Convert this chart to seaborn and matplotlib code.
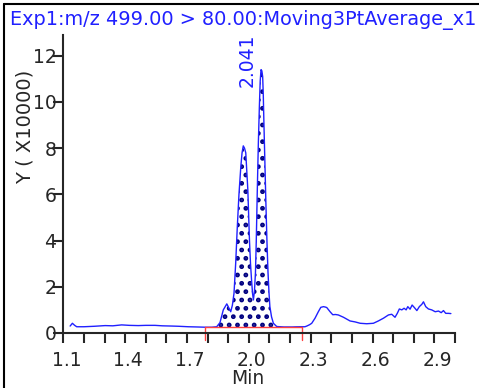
import numpy as np
import pandas as pd
import matplotlib
matplotlib.use("Agg")
import matplotlib.pyplot as plt
from matplotlib.lines import Line2D
from matplotlib.transforms import ScaledTranslation
import seaborn as sns

# Chromatogram trace (time in min, intensity in units of 10000)
time_min = [
    1.133, 1.144, 1.155, 1.165, 1.20, 1.25, 1.303, 1.34, 1.383, 1.42,
    1.464, 1.50, 1.545, 1.58, 1.626, 1.66, 1.706, 1.75, 1.787, 1.82,
    1.844, 1.86, 1.876, 1.893, 1.905, 1.912, 1.920, 1.928, 1.936, 1.944,
    1.952, 1.961, 1.967, 1.973, 1.979, 1.985, 1.990, 1.995, 2.003, 2.008,
    2.013, 2.018, 2.022, 2.027, 2.032, 2.036, 2.041, 2.046, 2.051, 2.055,
    2.059, 2.063, 2.067, 2.070, 2.073, 2.078, 2.083, 2.088, 2.093, 2.098,
    2.102, 2.110, 2.119, 2.135, 2.17, 2.21, 2.25, 2.272, 2.281, 2.295,
    2.305, 2.321, 2.337, 2.349, 2.362, 2.372, 2.378, 2.394, 2.407, 2.42,
    2.434, 2.459, 2.491, 2.515, 2.54, 2.572, 2.604, 2.628, 2.653, 2.677,
    2.693, 2.709, 2.72, 2.73, 2.742, 2.753, 2.763, 2.771, 2.782, 2.792,
    2.803, 2.815, 2.827, 2.839, 2.847, 2.858, 2.871, 2.887, 2.904, 2.92,
    2.933, 2.944, 2.955, 2.968, 2.98,
]
intensity = [
    0.30, 0.42, 0.33, 0.27, 0.27, 0.29, 0.32, 0.31, 0.35, 0.33,
    0.32, 0.33, 0.33, 0.31, 0.30, 0.29, 0.27, 0.26, 0.25, 0.25,
    0.27, 0.45, 1.00, 1.26, 1.05, 0.92, 1.20, 1.72, 3.00, 4.60,
    6.00, 7.20, 7.80, 8.10, 8.00, 7.80, 7.00, 6.20, 4.00, 3.00,
    2.30, 1.70, 1.43, 1.80, 2.60, 4.00, 6.20, 8.20, 9.80, 10.90,
    11.40, 11.35, 11.10, 10.30, 9.10, 7.30, 5.50, 3.90, 2.60, 1.70,
    1.14, 0.70, 0.42, 0.28, 0.26, 0.26, 0.27, 0.27, 0.30, 0.36,
    0.42, 0.64, 0.92, 1.11, 1.14, 1.12, 1.10, 0.92, 0.79, 0.80,
    0.78, 0.68, 0.52, 0.48, 0.42, 0.40, 0.42, 0.52, 0.64, 0.78,
    0.81, 0.68, 0.85, 1.04, 1.00, 1.07, 1.00, 1.14, 1.03, 1.21,
    1.10, 0.97, 1.14, 1.24, 1.35, 1.14, 1.04, 1.00, 0.92, 0.95,
    0.88, 0.97, 0.85, 0.85, 0.84,
]

# integration window
baseline_start = 1.7875
baseline_end = 2.257
baseline_level = 0.25
peak_rt = 2.041
peak_top = 11.4

x_ticks = [round(1.1 + 0.1 * i, 1) for i in range(20)]
y_ticks = [0, 2, 4, 6, 8, 10, 12]

df = pd.DataFrame({"Min": time_min, "Y": intensity})

sns.set_style("ticks")
plt.rcParams["font.family"] = ["DejaVu Sans"]
plt.rcParams["hatch.linewidth"] = 2.2
plt.rcParams["hatch.color"] = "#000080"

trace_col = "#2020ff"

fig = plt.figure(figsize=(4.79, 3.88), dpi=100)
ax = fig.add_axes([0.1322, 0.1418, 0.8177, 0.768])

sns.lineplot(data=df, x="Min", y="Y", color=trace_col, linewidth=1.0, ax=ax)

t = np.array(time_min)
v = np.array(intensity)
mask = (t >= baseline_start) & (t <= baseline_end)
ax.fill_between(t, baseline_level, v, where=mask & (v > baseline_level),
                interpolate=True, facecolor="white", edgecolor="#000080",
                hatch="..", linewidth=0, zorder=1)
sns.lineplot(x=[baseline_start, baseline_end], y=[baseline_level, baseline_level],
             color="#ff4040", linewidth=1.0, ax=ax)
for xb in (baseline_start, baseline_end):
    ax.plot([xb, xb], [baseline_level, -0.3], color="#ff4040", lw=1.0, clip_on=False)

ax.annotate(f"{peak_rt:.3f}", xy=(peak_rt, peak_top), xytext=(-7, -12.5),
            textcoords="offset points", rotation=90, ha="center", va="bottom",
            color=trace_col, fontsize=13.5)

ax.set_xlim(1.1, 3.0)
ax.set_ylim(0, 12.9)
ax.set_xticks(x_ticks)
ax.set_xticklabels([f"{x:.1f}" if i % 3 == 0 else "" for i, x in enumerate(x_ticks)])
ax.set_yticks(y_ticks)
ax.set_yticklabels([str(y) for y in y_ticks])
ax.tick_params(axis="x", length=7, width=1.5, pad=6, labelsize=13.5, direction="out")
ax.tick_params(axis="y", length=7, width=1.5, pad=-2, labelsize=13.5, direction="out")
shift = ScaledTranslation(3 / 100, 0, fig.dpi_scale_trans)
for lbl in ax.get_xticklabels():
    lbl.set_transform(lbl.get_transform() + shift)
for s in ("left", "bottom"):
    ax.spines[s].set_linewidth(1.5)
sns.despine(ax=ax)

ax.set_xlabel("Min", fontsize=13.5, labelpad=0)
ax.xaxis.set_label_coords(0.4716, -0.121)
ax.set_ylabel("Y ( X10000)", fontsize=14)
ax.yaxis.set_label_coords(-0.074, 0.691)

fig.text(10 / 479, 1 - 20 / 388, "Exp1:m/z 499.00 > 80.00:Moving3PtAverage_x1",
         color=trace_col, fontsize=13.9, va="center", ha="left")

# outer frame (left and top)
fig.add_artist(Line2D([3.5 / 479, 3.5 / 479], [0, 1 - 4 / 388], color="black", lw=1.5))
fig.add_artist(Line2D([3.5 / 479, 1], [1 - 4 / 388, 1 - 4 / 388], color="black", lw=1.5))

fig.savefig("out.png", dpi=100)
